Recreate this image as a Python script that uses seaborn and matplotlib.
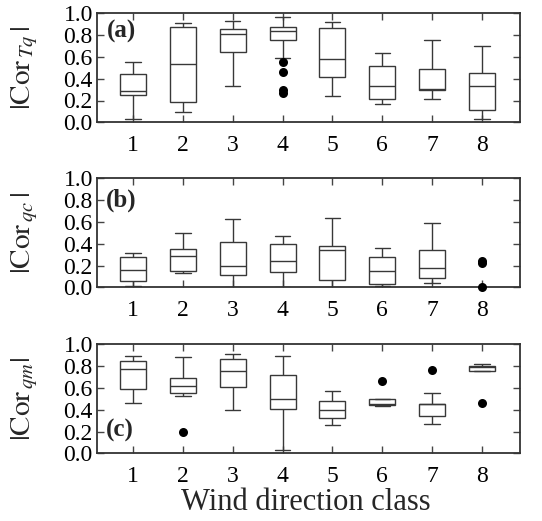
import numpy as np
import pandas as pd
import matplotlib
matplotlib.use("Agg")
import matplotlib.pyplot as plt
import seaborn as sns

classes = ["1", "2", "3", "4", "5", "6", "7", "8"]
nan = np.nan

# Panel (a) |Cor_Tq|
a_whislo = [0.034, 0.095, 0.330, 0.587, 0.239, 0.171, 0.211, 0.034]
a_q1 = [0.254, 0.183, 0.645, 0.755, 0.416, 0.217, 0.300, 0.113]
a_med = [0.284, 0.538, 0.810, 0.838, 0.581, 0.330, 0.310, 0.330]
a_q3 = [0.443, 0.875, 0.859, 0.872, 0.862, 0.514, 0.486, 0.456]
a_whishi = [0.557, 0.911, 0.925, 0.969, 0.917, 0.639, 0.752, 0.697]
a_out_class = ["4", "4", "4", "4"]
a_out_val = [0.557, 0.465, 0.297, 0.272]

# Panel (b) |Cor_qc|
b_whislo = [0.015, 0.135, 0.000, 0.000, 0.006, 0.012, 0.040, nan]
b_q1 = [0.061, 0.150, 0.110, 0.138, 0.070, 0.034, 0.083, nan]
b_med = [0.162, 0.284, 0.193, 0.242, 0.343, 0.147, 0.174, nan]
b_q3 = [0.275, 0.355, 0.419, 0.394, 0.379, 0.278, 0.339, nan]
b_whishi = [0.315, 0.495, 0.627, 0.474, 0.639, 0.361, 0.593, nan]
b_out_class = ["8", "8", "8"]
b_out_val = [0.240, 0.225, 0.000]

# Panel (c) |Cor_qm|
c_whislo = [0.459, 0.526, 0.394, 0.034, 0.260, 0.434, 0.266, 0.752]
c_q1 = [0.593, 0.550, 0.612, 0.404, 0.324, 0.446, 0.343, 0.752]
c_med = [0.777, 0.615, 0.755, 0.495, 0.394, 0.453, 0.450, 0.790]
c_q3 = [0.844, 0.688, 0.862, 0.722, 0.483, 0.495, 0.450, 0.798]
c_whishi = [0.893, 0.887, 0.908, 0.893, 0.572, 0.495, 0.554, 0.823]
c_out_class = ["2", "6", "7", "8"]
c_out_val = [0.193, 0.667, 0.765, 0.459]

yticks = [0.0, 0.2, 0.4, 0.6, 0.8, 1.0]
ylabels = [r"$|\mathrm{Cor}_{\,Tq}\,|$", r"$|\mathrm{Cor}_{\,qc}\,|$", r"$|\mathrm{Cor}_{\,qm}|$"]
panel_tags = ["(a)", "(b)", "(c)"]
xlabel = "Wind direction class"

sns.set_theme(style="ticks")
plt.rcParams["font.family"] = ["Liberation Serif", "DejaVu Serif"]
plt.rcParams["mathtext.fontset"] = "stix"

fig = plt.figure(figsize=(5.42, 5.21), dpi=100)
left, width = 97 / 542, 423 / 542
tops = [13.3, 178.3, 344.3]
h = 109 / 521

panels = [
    (a_whislo, a_q1, a_med, a_q3, a_whishi, a_out_class, a_out_val),
    (b_whislo, b_q1, b_med, b_q3, b_whishi, b_out_class, b_out_val),
    (c_whislo, c_q1, c_med, c_q3, c_whishi, c_out_class, c_out_val),
]
tag_pos = [(0.024, 0.83), (0.022, 0.80), (0.022, 0.21)]

line_c = "#383838"
for i, (wlo, q1, med, q3, whi, oc, ov) in enumerate(panels):
    ax = fig.add_axes([left, 1 - (tops[i] + 109) / 521, width, h])
    rows = []
    for k, c in enumerate(classes):
        for v in (wlo[k], q1[k], med[k], q3[k], whi[k]):
            rows.append((c, v))
    df = pd.DataFrame(rows, columns=["cls", "val"]).dropna()
    sns.boxplot(data=df, x="cls", y="val", order=classes, ax=ax,
                color="white", linecolor=line_c, linewidth=1.0,
                width=0.52, showfliers=False, capwidths=0.31,
                medianprops=dict(color=line_c, linewidth=1.0))
    n_before = len(ax.collections)
    fl = pd.DataFrame({"cls": oc, "val": ov})
    sns.stripplot(data=fl, x="cls", y="val", order=classes, ax=ax,
                  jitter=False, color="black", size=6.5, linewidth=0, zorder=4)
    for coll in ax.collections[n_before:]:
        coll.set_clip_on(False)
    ax.set_xlim(-0.72, 7.76)
    ax.set_ylim(0, 1.0)
    ax.set_yticks(yticks)
    ax.set_yticklabels([f"{t:.1f}" for t in yticks])
    ax.set_xlabel("")
    ax.set_ylabel(ylabels[i], fontsize=21)
    ax.yaxis.set_label_coords(-0.135, 0.5)
    ax.tick_params(axis="both", direction="in", top=True, right=True,
                   length=5, width=1.0, color="#444444", labelsize=17,
                   labelcolor="black")
    ax.tick_params(axis="y", pad=3)
    ax.tick_params(axis="x", pad=9)
    for s in ax.spines.values():
        s.set_color("#333333")
        s.set_linewidth(1.3)
    ax.text(tag_pos[i][0], tag_pos[i][1], panel_tags[i], transform=ax.transAxes,
            fontsize=18, fontweight="bold", va="center", ha="left")

fig.text(306 / 542, 1 - 510 / 521, xlabel, fontsize=22, ha="center", va="baseline")
fig.savefig("out.png", dpi=100)
